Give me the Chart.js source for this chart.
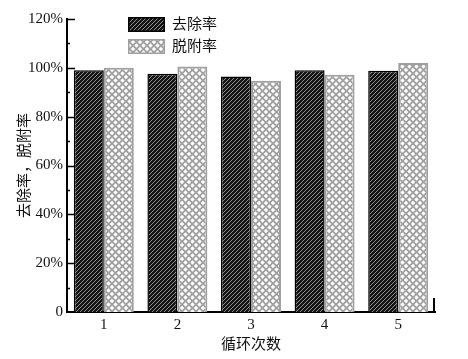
<!DOCTYPE html>
<html>
<head>
<meta charset="utf-8">
<script src="https://cdn.jsdelivr.net/npm/chart.js@4.4.0/dist/chart.umd.min.js"></script>
<style>
html,body{margin:0;padding:0;background:#fff;}
#wrap{width:468px;height:359px;}
</style>
</head>
<body>
<div id="wrap"><canvas id="c" width="468" height="359"></canvas></div>
<script>
const categories = ['1', '2', '3', '4', '5'];
const removalRate = [99.0, 97.6, 96.4, 99.0, 98.8];
const desorptionRate = [100.0, 100.5, 94.7, 97.2, 102.0];
const seriesNames = ['去除率', '脱附率'];
const yTicks = [0, 20, 40, 60, 80, 100, 120];
const xTitle = '循环次数';
const yTitle = '去除率，脱附率';

const FONT = "'Liberation Serif', 'Noto Sans CJK SC', serif";

function hatchPattern() {
  const s = 4;
  const cv = document.createElement('canvas');
  cv.width = s; cv.height = s;
  const g = cv.getContext('2d');
  g.fillStyle = '#141414';
  g.fillRect(0, 0, s, s);
  g.strokeStyle = '#b0b0b0';
  g.lineWidth = 0.8;
  g.beginPath();
  g.moveTo(0, s); g.lineTo(s, 0);
  g.moveTo(-1, 1); g.lineTo(1, -1);
  g.moveTo(s - 1, s + 1); g.lineTo(s + 1, s - 1);
  g.stroke();
  return g.createPattern(cv, 'repeat');
}
function crossPattern() {
  const s = 7;
  const cv = document.createElement('canvas');
  cv.width = s; cv.height = s;
  const g = cv.getContext('2d');
  g.fillStyle = '#a0a0a0';
  g.fillRect(0, 0, s, s);
  g.fillStyle = '#ffffff';
  const diamond = (cx, cy, r) => {
    g.beginPath();
    g.moveTo(cx, cy - r); g.lineTo(cx + r, cy); g.lineTo(cx, cy + r); g.lineTo(cx - r, cy);
    g.closePath(); g.fill();
  };
  const r = 2.2;
  diamond(3.5, 3.5, r);
  diamond(0, 0, r); diamond(s, 0, r); diamond(0, s, r); diamond(s, s, r);
  return g.createPattern(cv, 'repeat');
}

const fills = [hatchPattern(), crossPattern()];
const borders = ['#000000', '#a0a0a0'];

const decor = {
  id: 'decor',
  afterDraw(chart) {
    const ctx = chart.ctx;
    const y = chart.scales.y;
    const L = chart.chartArea.left, R = chart.chartArea.right, B = chart.chartArea.bottom;
    ctx.save();
    ctx.strokeStyle = '#000';
    ctx.lineWidth = 1.5;
    for (let v = 10; v <= 120; v += 10) {
      const py = Math.round(y.getPixelForValue(v)) + 0.5;
      const len = (v % 20 === 0) ? 8 : 3;
      ctx.beginPath();
      ctx.moveTo(L, py); ctx.lineTo(L + len, py);
      ctx.stroke();
    }
    ctx.lineWidth = 2;
    ctx.beginPath();
    ctx.moveTo(R - 1, B); ctx.lineTo(R - 1, B - 14);
    ctx.stroke();
    // legend
    const lx = 128, ly = [17, 39];
    chart.data.datasets.forEach((ds, i) => {
      ctx.fillStyle = ds.backgroundColor;
      ctx.fillRect(lx, ly[i], 37, 15);
      ctx.strokeStyle = ds.borderColor;
      ctx.lineWidth = 1.5;
      ctx.strokeRect(lx + 0.75, ly[i] + 0.75, 35.5, 13.5);
      ctx.fillStyle = '#111';
      ctx.font = "15px " + FONT;
      ctx.textBaseline = 'middle';
      ctx.textAlign = 'left';
      ctx.fillText(ds.label, lx + 44, ly[i] + 8);
    });
    ctx.restore();
  }
};

new Chart(document.getElementById('c'), {
  type: 'bar',
  data: {
    labels: categories,
    datasets: [
      { label: seriesNames[0], data: removalRate, backgroundColor: fills[0], borderColor: borders[0], borderWidth: 1.5, borderSkipped: 'bottom' },
      { label: seriesNames[1], data: desorptionRate, backgroundColor: fills[1], borderColor: borders[1], borderWidth: 2, borderSkipped: 'bottom' }
    ]
  },
  options: {
    responsive: false,
    animation: false,
    devicePixelRatio: 1,
    layout: { padding: { top: 19, right: 33, left: 0, bottom: 0 } },
    plugins: { legend: { display: false }, tooltip: { enabled: false } },
    datasets: { bar: { categoryPercentage: 0.815, barPercentage: 1.0 } },
    scales: {
      x: {
        grid: { display: false, drawTicks: false, tickLength: 0 },
        border: { display: true, color: '#000', width: 2 },
        ticks: { color: '#111', font: { family: FONT, size: 15 }, padding: 4 },
        title: { display: true, text: xTitle, color: '#111', font: { family: FONT, size: 15 }, padding: { top: 0, bottom: 5 } },
        afterFit(s) { s.height = 47; }
      },
      y: {
        min: 0, max: 120,
        afterBuildTicks(s) { s.ticks = yTicks.map(v => ({ value: v })); },
        grid: { display: false, drawTicks: false, tickLength: 0 },
        border: { display: true, color: '#000', width: 2 },
        ticks: {
          color: '#111', font: { family: FONT, size: 15 }, padding: 4,
          callback: v => v === 0 ? '0' : v + '%'
        },
        title: { display: true, text: yTitle, color: '#111', font: { family: FONT, size: 15 }, padding: { top: 16, bottom: 0 } },
        afterFit(s) { s.width = 67; }
      }
    }
  },
  plugins: [decor]
});
</script>
</body>
</html>
